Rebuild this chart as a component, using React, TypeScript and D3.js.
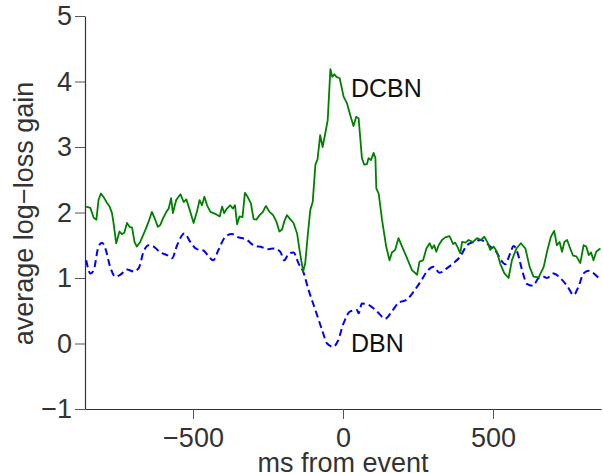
import React, { useEffect, useRef } from "react";
import * as d3 from "d3";

// DCBN (green, solid) - ms from event / average log-loss gain
const dcbnMs = [-856,-842,-831,-822,-815,-807,-796,-787,-778,-770,-765,-756,-745,-737,-729,-720,-711,-703,-695,-687,-676,-659,-648,-637,-626,-617,-609,-600,-589,-581,-573,-567,-556,-542,-531,-522,-511,-498,-487,-478,-470,-462,-453,-442,-426,-411,-403,-396,-387,-376,-367,-360,-353,-345,-335,-327,-318,-307,-298,-289,-278,-267,-257,-245,-233,-222,-212,-203,-196,-187,-176,-165,-153,-145,-133,-126,-118,-109,-101,-92,-85,-76,-68,-59,-51,-42,-36,-29,-22,-11,2,13,24,35,44,52,58,63,71,80,85,93,102,108,111,119,130,144,155,163,174,185,197,211,230,247,255,267,278,289,297,304,311,319,330,341,355,367,374,380,391,397,408,419,433,447,460,471,482,491,502,513,524,538,552,563,578,593,608,622,635,652,669,680,693,704,713,722,730,738,747,755,767,778,791,802,811,819,827,835,844,858];
const dcbnGain = [2.09,2.07,1.92,1.89,2.19,2.29,2.22,2.15,2.09,1.99,1.84,1.53,1.71,1.67,1.69,1.84,1.78,1.77,1.55,1.48,1.55,1.73,1.86,2.01,1.89,1.78,1.81,1.91,2.01,2.06,2.22,1.99,2.19,2.28,2.16,2.20,2.04,1.84,2.01,2.19,2.11,2.24,2.11,2.01,1.98,1.94,2.09,1.99,2.06,2.11,2.06,2.11,1.82,1.94,1.93,2.30,2.24,2.14,1.90,1.89,1.96,2.01,2.10,2.01,1.96,1.86,1.71,1.74,1.86,1.96,1.90,1.84,1.68,1.43,1.10,1.22,1.63,2.04,2.16,2.73,2.81,3.18,3.00,3.21,3.41,4.19,4.07,4.11,4.07,4.05,3.77,3.67,3.49,3.32,3.46,3.44,3.11,2.83,2.73,2.74,2.83,2.80,2.91,2.83,2.37,2.29,1.89,1.48,1.27,1.39,1.43,1.61,1.48,1.33,1.12,1.05,1.25,1.27,1.45,1.53,1.45,1.50,1.40,1.50,1.58,1.62,1.64,1.52,1.54,1.49,1.38,1.55,1.54,1.58,1.55,1.61,1.58,1.63,1.54,1.43,1.48,1.40,1.22,1.07,1.00,1.27,1.45,1.53,1.45,1.17,1.02,1.01,1.17,1.40,1.63,1.72,1.50,1.55,1.40,1.55,1.58,1.48,1.34,1.33,1.23,1.50,1.48,1.35,1.39,1.27,1.40,1.45];

// DBN (blue, dashed)
const dbnMs = [-856,-842,-831,-815,-803,-792,-776,-759,-742,-720,-698,-681,-665,-648,-631,-609,-587,-570,-553,-529,-509,-487,-465,-448,-433,-415,-392,-370,-353,-320,-298,-270,-248,-231,-209,-196,-181,-165,-148,-133,-115,-92,-70,-53,-33,-18,2,24,47,52,63,85,113,141,163,185,213,235,258,280,302,322,347,369,391,413,435,458,474,491,511,527,541,555,569,582,597,613,633,652,669,680,702,724,747,769,785,802,819,841,858];
const dbnGain = [1.27,1.07,1.12,1.48,1.54,1.45,1.17,1.02,1.05,1.13,1.10,1.15,1.40,1.50,1.48,1.39,1.35,1.30,1.50,1.68,1.55,1.44,1.42,1.33,1.27,1.43,1.63,1.67,1.63,1.58,1.50,1.47,1.44,1.45,1.40,1.27,1.37,1.39,1.22,1.10,0.82,0.51,0.21,0.00,-0.05,0.03,0.31,0.49,0.51,0.46,0.61,0.59,0.49,0.38,0.49,0.62,0.67,0.79,0.94,1.10,1.17,1.08,1.15,1.23,1.33,1.50,1.55,1.58,1.55,1.48,1.40,1.27,1.21,1.35,1.49,1.38,1.12,0.91,0.88,1.00,1.02,1.00,1.07,1.00,0.88,0.74,0.87,1.07,1.11,1.05,0.97];

const xTicks = [-500, 0, 500];
const yTicks = [-1, 0, 1, 2, 3, 4, 5];

const FONT = "'Liberation Sans', Arial, Helvetica, sans-serif";

const App = () => {
  const svgRef = useRef<SVGSVGElement>(null);

  useEffect(() => {
    const width = 603;
    const height = 473;
    // plot box
    const left = 85, right = 601, top = 16, bottom = 409;

    const svg = d3.select(svgRef.current);
    svg.selectAll("*").remove();

    const x = d3.scaleLinear().domain([-860, 860]).range([left, right]);
    const y = d3.scaleLinear().domain([-1, 5]).range([bottom, top]);

    svg
      .append("defs")
      .append("clipPath")
      .attr("id", "plotclip")
      .append("rect")
      .attr("x", left)
      .attr("y", top)
      .attr("width", right - left)
      .attr("height", bottom - top);

    // ----- axes
    const xAxis = svg
      .append("g")
      .attr("transform", `translate(0,${bottom})`)
      .call(
        d3.axisBottom(x)
          .tickValues(xTicks)
          .tickSize(10)
          .tickSizeOuter(0)
          .tickPadding(9)
          .tickFormat(d => d3.format("")(d as number).replace("-", "\u2212"))
      );

    const yAxis = svg
      .append("g")
      .attr("transform", `translate(${left},0)`)
      .call(
        d3.axisLeft(y)
          .tickValues(yTicks)
          .tickSize(10)
          .tickSizeOuter(0)
          .tickPadding(3)
          .tickFormat(d => d3.format("")(d as number).replace("-", "\u2212"))
      );

    [xAxis, yAxis].forEach(g => {
      g.select(".domain").attr("stroke", "#333").attr("stroke-width", 1.2);
      g.selectAll(".tick line").attr("stroke", "#555").attr("stroke-width", 1);
      g.selectAll(".tick text")
        .attr("fill", "#333")
        .style("font-family", FONT)
        .style("font-size", "27px");
    });

    // axis titles
    svg
      .append("text")
      .attr("x", 343)
      .attr("y", 472)
      .attr("text-anchor", "middle")
      .attr("fill", "#333")
      .style("font-family", FONT)
      .style("font-size", "27px")
      .text("ms from event");

    svg
      .append("text")
      .attr("transform", `translate(33,213.5) rotate(-90)`)
      .attr("text-anchor", "middle")
      .attr("fill", "#333")
      .style("font-family", FONT)
      .style("font-size", "27px")
      .text("average log\u2212loss gain");

    // ----- lines
    const plot = svg.append("g").attr("clip-path", "url(#plotclip)");

    const dbnLine = d3
      .line<number>()
      .x((d, i) => x(dbnMs[i]))
      .y(d => y(d))
      .curve(d3.curveMonotoneX);

    plot
      .append("path")
      .datum(dbnGain)
      .attr("d", dbnLine)
      .attr("fill", "none")
      .attr("stroke", "#0000ff")
      .attr("stroke-width", 2)
      .attr("stroke-dasharray", "7,4");

    const dcbnLine = d3
      .line<number>()
      .x((d, i) => x(dcbnMs[i]))
      .y(d => y(d));

    plot
      .append("path")
      .datum(dcbnGain)
      .attr("d", dcbnLine)
      .attr("fill", "none")
      .attr("stroke", "#007f00")
      .attr("stroke-width", 1.8)
      .attr("stroke-linejoin", "round");

    // series labels
    svg
      .append("text")
      .attr("x", 351)
      .attr("y", 97)
      .attr("fill", "#111")
      .style("font-family", FONT)
      .style("font-size", "25px")
      .text("DCBN");

    svg
      .append("text")
      .attr("x", 351)
      .attr("y", 352)
      .attr("fill", "#111")
      .style("font-family", FONT)
      .style("font-size", "25px")
      .text("DBN");

    svg.attr("width", width).attr("height", height);
  }, []);

  return (
    <svg
      ref={svgRef}
      width={603}
      height={473}
      style={{ position: "absolute", left: 0, top: 0, background: "#fff" }}
    />
  );
};

export default App;
